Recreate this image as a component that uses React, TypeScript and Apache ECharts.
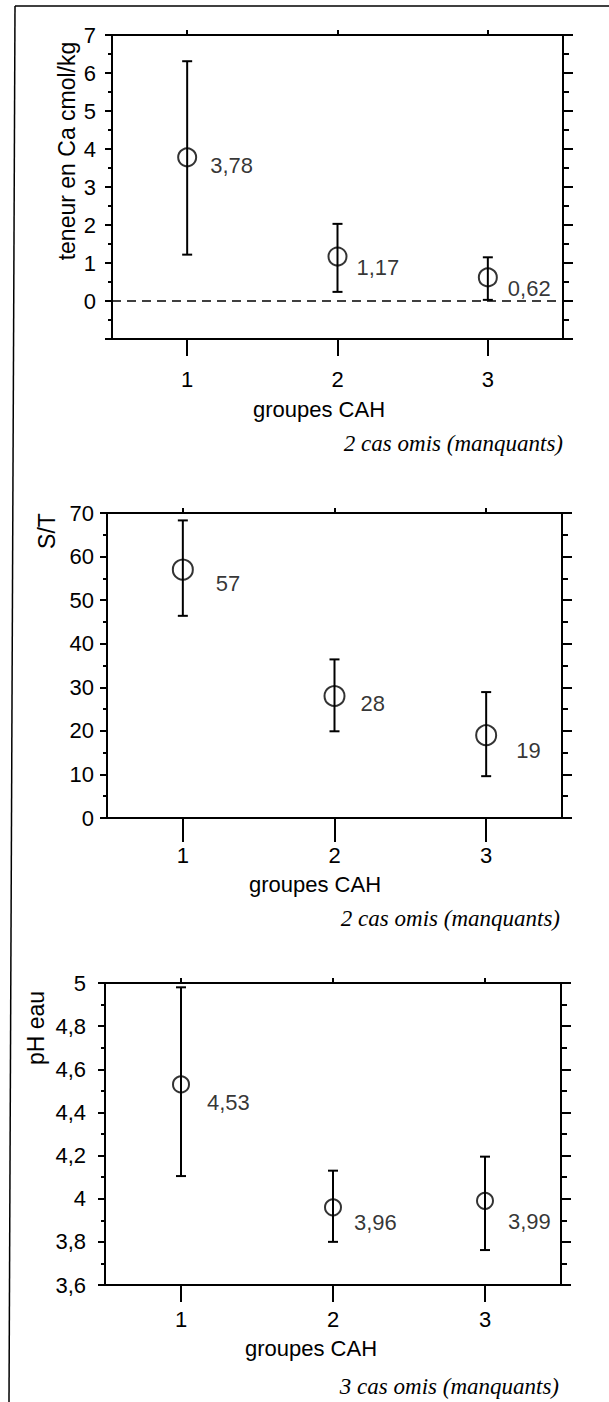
import React, { useEffect, useRef } from 'react';
import * as echarts from 'echarts';

// ---------- data ----------
const GROUPS = ['1', '2', '3'];

const CA_MEAN = [3.78, 1.17, 0.62];
const CA_LOW = [1.22, 0.24, 0.03];
const CA_HIGH = [6.31, 2.03, 1.15];

const ST_MEAN = [57, 28, 19];
const ST_LOW = [46.4, 19.9, 9.6];
const ST_HIGH = [68.3, 36.4, 28.9];

const PH_MEAN = [4.53, 3.96, 3.99];
const PH_LOW = [4.105, 3.8, 3.762];
const PH_HIGH = [4.98, 4.13, 4.195];

const Y_NAMES = ['teneur en Ca cmol/kg', 'S/T', 'pH eau'];
const X_NAME = 'groupes CAH';
const NOTES = ['2 cas omis (manquants)', '2 cas omis (manquants)', '3 cas omis (manquants)'];
const Y_RANGES = [
  { min: -1, max: 7, interval: 1 },
  { min: 0, max: 70, interval: 10 },
  { min: 3.6, max: 5, interval: 0.2 },
];

const PANELS = [
  { mean: CA_MEAN, low: CA_LOW, high: CA_HIGH, hideMin: true, zeroLine: true },
  { mean: ST_MEAN, low: ST_LOW, high: ST_HIGH, hideMin: false, zeroLine: false },
  { mean: PH_MEAN, low: PH_LOW, high: PH_HIGH, hideMin: false, zeroLine: false },
];

// ---------- layout / style ----------
const FONT = '"Liberation Sans", Arial, Helvetica, sans-serif';
const SERIF = '"Liberation Serif", "Times New Roman", serif';
const FS = 22;

const LAYOUT = [
  { left: 112, right: 46, top: 35, height: 304, tickLen: 17, labelMargin: 29, yLabelMargin: 16, symbol: 18,
    offsets: [[13, 8.5], [9, 11], [10, 11]], nameX: 67, nameY: 151, xNameX: 319, xNameY: 409, noteX: 563, noteY: 443 },
  { left: 107, right: 47, top: 513, height: 305, tickLen: 24, labelMargin: 26, yLabelMargin: 13, symbol: 20,
    offsets: [[22, 14], [15, 7.5], [19, 15]], nameX: 47, nameY: 531, xNameX: 315, xNameY: 884, noteX: 560, noteY: 918 },
  { left: 105, right: 48, top: 983, height: 302, tickLen: 17, labelMargin: 23, yLabelMargin: 19, symbol: 16,
    offsets: [[17, 18.6], [12, 15], [14, 21]], nameX: 36, nameY: 1028, xNameX: 311, xNameY: 1348, noteX: 559, noteY: 1386 },
];

const fmt = (v: number) => String(Math.round(v * 100) / 100).replace('.', ',');

function buildOption() {
  const grid: any[] = [];
  const xAxis: any[] = [];
  const yAxis: any[] = [];
  const series: any[] = [];
  const graphic: any[] = [];

  // outer frame (top + left rule)
  graphic.push(
    { type: 'line', shape: { x1: 15, y1: 6, x2: 609, y2: 6 }, style: { stroke: '#000', lineWidth: 1.5 } },
    { type: 'line', shape: { x1: 15, y1: 6, x2: 9, y2: 1402 }, style: { stroke: '#000', lineWidth: 1.5 } }
  );

  PANELS.forEach((p, i) => {
    const L = LAYOUT[i];
    const R = Y_RANGES[i];
    grid.push({ left: L.left, right: L.right, top: L.top, height: L.height, containLabel: false, outerBoundsMode: 'none' });

    const axisLine = { show: true, onZero: false, lineStyle: { color: '#000', width: 2 } };
    xAxis.push({
      type: 'category', gridIndex: i, data: GROUPS, position: 'bottom', boundaryGap: true,
      axisLine,
      axisTick: { show: true, alignWithLabel: true, inside: false, length: L.tickLen, lineStyle: { color: '#000', width: 2 } },
      axisLabel: { show: true, margin: L.labelMargin, fontSize: FS, fontFamily: FONT, color: '#000' },
      splitLine: { show: false },
    });
    xAxis.push({
      type: 'category', gridIndex: i, data: GROUPS, position: 'top', boundaryGap: true,
      axisLine,
      axisTick: { show: true, alignWithLabel: true, inside: false, length: 5, lineStyle: { color: '#000', width: 2 } },
      axisLabel: { show: false },
      splitLine: { show: false },
    });
    const labelFmt = (v: number) => {
      if (p.hideMin && Math.abs(v - R.min) < 1e-9) return '';
      return fmt(v);
    };
    yAxis.push({
      type: 'value', gridIndex: i, position: 'left', min: R.min, max: R.max, interval: R.interval,
      axisLine: { show: true, lineStyle: { color: '#000', width: 2 } },
      axisTick: { show: true, inside: false, length: 7, lineStyle: { color: '#000', width: 2 } },
      minorTick: { show: true, splitNumber: 2, length: 4, lineStyle: { color: '#000', width: 2 } },
      axisLabel: { show: true, margin: L.yLabelMargin, fontSize: FS, fontFamily: FONT, color: '#000', formatter: labelFmt, padding: [6, 0, 0, 0] },
      splitLine: { show: false },
      minorSplitLine: { show: false },
    });
    yAxis.push({
      type: 'value', gridIndex: i, position: 'right', min: R.min, max: R.max, interval: R.interval,
      axisLine: { show: true, lineStyle: { color: '#000', width: 2 } },
      axisTick: { show: true, inside: false, length: 10, lineStyle: { color: '#000', width: 2 } },
      minorTick: { show: true, splitNumber: 2, length: 6, lineStyle: { color: '#000', width: 2 } },
      axisLabel: { show: false },
      splitLine: { show: false },
      minorSplitLine: { show: false },
    });

    const xIdx = i * 2;
    const yIdx = i * 2;

    series.push({
      type: 'custom', xAxisIndex: xIdx, yAxisIndex: yIdx,
      data: GROUPS.map((g, k) => [k, p.low[k], p.high[k]]),
      encode: { x: 0, y: [1, 2] },
      renderItem: (params: any, api: any) => {
        const x = api.value(0);
        const lo = api.coord([x, api.value(1)]);
        const hi = api.coord([x, api.value(2)]);
        const cap = 5;
        const st = { stroke: '#000', lineWidth: 2 };
        return {
          type: 'group',
          children: [
            { type: 'line', shape: { x1: lo[0], y1: lo[1], x2: hi[0], y2: hi[1] }, style: st },
            { type: 'line', shape: { x1: lo[0] - cap, y1: lo[1], x2: lo[0] + cap, y2: lo[1] }, style: st },
            { type: 'line', shape: { x1: hi[0] - cap, y1: hi[1], x2: hi[0] + cap, y2: hi[1] }, style: st },
          ],
        };
      },
      z: 2,
    });

    const scatter: any = {
      type: 'scatter', xAxisIndex: xIdx, yAxisIndex: yIdx,
      symbol: 'circle', symbolSize: L.symbol,
      itemStyle: { color: 'transparent', borderColor: '#000', borderWidth: 2 },
      data: p.mean.map((v, k) => ({
        value: [k, v],
        label: {
          show: true, position: 'right', distance: 0, offset: L.offsets[k],
          formatter: fmt(v), fontSize: FS, fontFamily: FONT, color: '#000',
        },
      })),
      z: 3,
    };
    if (p.zeroLine) {
      scatter.markLine = {
        silent: true, symbol: ['none', 'none'], animation: false,
        label: { show: false },
        lineStyle: { type: [9, 6], color: '#000', width: 1.5 },
        data: [{ yAxis: 0 }],
      };
    }
    series.push(scatter);

    graphic.push(
      {
        type: 'text', x: L.nameX, y: L.nameY, rotation: Math.PI / 2,
        style: { text: Y_NAMES[i], fontSize: 23, fontFamily: FONT, fill: '#000', align: 'center', verticalAlign: 'middle' },
      },
      {
        type: 'text', x: L.xNameX, y: L.xNameY,
        style: { text: X_NAME, fontSize: FS, fontFamily: FONT, fill: '#000', align: 'center', verticalAlign: 'middle' },
      },
      {
        type: 'text', x: L.noteX, y: L.noteY,
        style: { text: NOTES[i], fontSize: 23, fontFamily: SERIF, fontStyle: 'italic', fill: '#000', align: 'right', verticalAlign: 'middle' },
      }
    );
  });

  return {
    animation: false,
    backgroundColor: '#fff',
    grid, xAxis, yAxis, series, graphic,
  };
}

export default function App() {
  const ref = useRef<HTMLDivElement>(null);
  useEffect(() => {
    if (!ref.current) return;
    const chart = echarts.init(ref.current, null, { renderer: 'svg' });
    chart.setOption(buildOption() as any);
    return () => chart.dispose();
  }, []);
  return <div ref={ref} style={{ position: 'absolute', left: 0, top: 0, width: 609, height: 1402 }} />;
}
